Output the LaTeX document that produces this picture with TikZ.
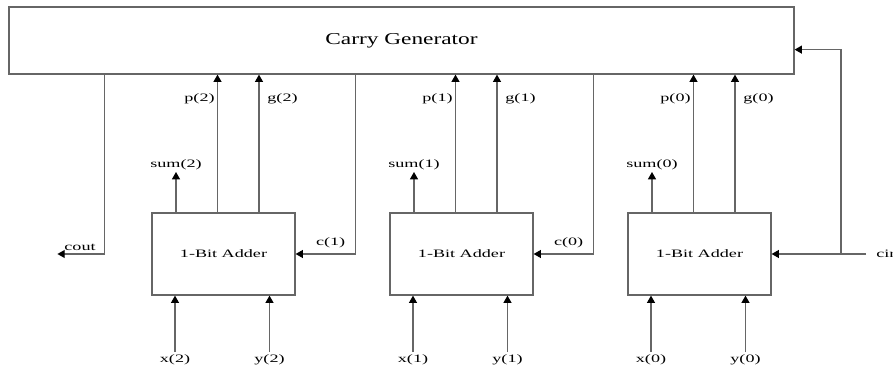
\documentclass[tikz,border=0pt]{standalone}
\usepackage{fontspec}
\setmainfont{Liberation Serif}
\newfontfamily\widefont[FakeStretch=1.6]{Liberation Serif}
\newfontfamily\titlefont[FakeStretch=1.4]{Liberation Serif}
\usetikzlibrary{positioning,arrows.meta,calc}

\tikzset{
  wire/.style={draw=black!60, line width=0.9pt},
  block/.style={draw=black!60, line width=0.9pt, rectangle, inner sep=0pt},
  lbl/.style={font=\widefont\fontsize{8.5}{10}\selectfont, inner sep=1.5pt},
}

\begin{document}
\begin{tikzpicture}[
  x=0.75pt, y=-0.75pt,
  >={Triangle[length=5.5pt,width=6pt,color=black]}
]
  \useasboundingbox (0,0) rectangle (893,368);

  % Carry generator
  \node[block, minimum width=588.75pt, minimum height=50.25pt,
    font=\titlefont\fontsize{12.5}{14}\selectfont] (cg) at (401.5,40.5)
    {Carry Generator};

  % Adders with sum, p, g and x, y
  \foreach \i/\cx in {2/223.5, 1/461.5, 0/699.5} {
    \node[block, lbl, minimum width=107.25pt, minimum height=61.5pt]
      (add\i) at (\cx,254) {1-Bit Adder};
    % sum
    \node[lbl, anchor=south] (sum\i) at (\cx-47.5,172) {sum(\i)};
    \draw[wire,->] (add\i.north -| sum\i.south) -- (sum\i.south);
    % p and g
    \coordinate (pout\i) at ($(add\i.north)+(-6,0)$);
    \coordinate (gout\i) at ($(add\i.north)+(35.5,0)$);
    \draw[wire,->] (pout\i) -- (pout\i |- cg.south);
    \draw[wire,->] (gout\i) -- (gout\i |- cg.south);
    \node[lbl] (plbl\i) at (\cx-24,99) {p(\i)};
    \node[lbl] (glbl\i) at (\cx+59,99) {g(\i)};
    % x and y
    \node[lbl, anchor=north] (xin\i) at (\cx-48.5,352) {x(\i)};
    \node[lbl, anchor=north] (yin\i) at (\cx+46,352) {y(\i)};
    \draw[wire,->] (xin\i.north) -- (xin\i.north |- add\i.south);
    \draw[wire,->] (yin\i.north) -- (yin\i.north |- add\i.south);
  }

  % Carries between adders
  \foreach \i/\j in {2/1, 1/0} {
    \coordinate (cturn\i) at ($(add\i.east)+(60,0)$);
    \draw[wire,->] (cturn\i |- cg.south) -- (cturn\i) -- (add\i.east);
    \node[lbl] (clbl\j) at ($(add\i.east)+(35,-11)$) {c(\j)};
  }

  % Carry out
  \coordinate (coutturn) at ($(add2.west)+(-47,0)$);
  \coordinate (coutend) at ($(add2.west)+(-94,0)$);
  \draw[wire,->] (coutturn |- cg.south) -- (coutturn) -- (coutend);
  \node[lbl] (coutlbl) at (80,247) {cout};

  % Carry in
  \coordinate (cinstart) at (866,254);
  \coordinate (cinjoin) at (841,254);
  \coordinate (cgin) at ($(cg.south east)+(0,-25)$);
  \node[lbl, right=6pt of cinstart, anchor=west] (cin) {cin};
  \draw[wire,->] (cinstart) -- (add0.east);
  \draw[wire,->] (cinjoin) -- (cinjoin |- cgin) -- (cgin);
\end{tikzpicture}
\end{document}
